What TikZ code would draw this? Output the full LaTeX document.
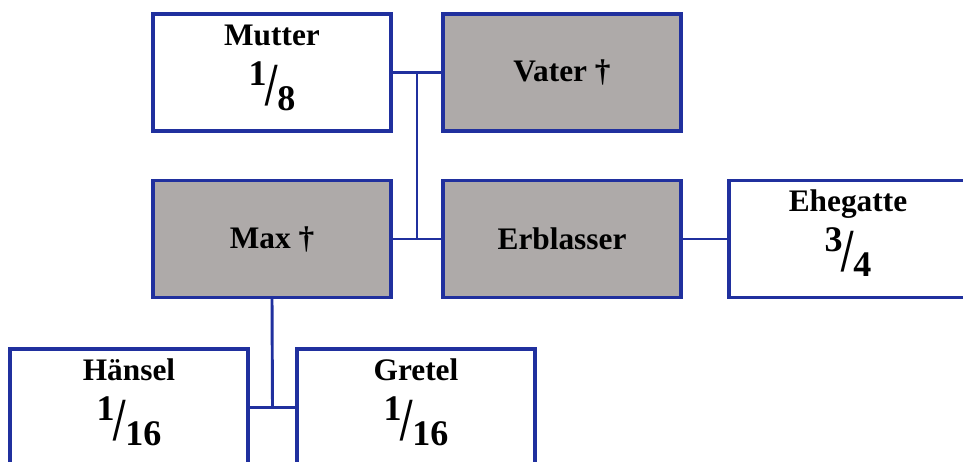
\documentclass[tikz,border=0pt]{standalone}
\usepackage{fontspec}
\setmainfont{Liberation Serif}
\usepackage{graphicx}
\usetikzlibrary{calc}
\definecolor{boxblue}{RGB}{32,48,158}
\definecolor{deadgray}{RGB}{174,170,169}
\newcommand{\anteil}[2]{\raisebox{.8em}{\scalebox{1.15}{#1}}\kern-.02em\raisebox{.16em}{\scalebox{1.4}[1.95]{/}}\kern-.02em\scalebox{1.15}{#2}}

\begin{document}
\begin{tikzpicture}[x=0.75pt, y=-0.75pt, font=\bfseries\fontsize{23.5}{28}\selectfont,
  box/.style={draw=boxblue, line width=2.4pt, fill=white, inner sep=0pt, minimum width=178.5pt, minimum height=87.75pt},
  heir/.style={box, text height=23.25pt, text depth=64.5pt},
  dead/.style={box, fill=deadgray},
  share/.style={anchor=base, inner sep=0pt},
  link/.style={draw=boxblue, line width=2.2pt}]
	\useasboundingbox (0,0) rectangle (963,461);
	\clip (0,0) rectangle (963,461);
	\node[heir] (mutter) at (272,72.5) {Mutter};
	\node[dead] (vater) at (562,72.5) {Vater †};
	\node[dead] (max) at (272,239) {Max †};
	\node[dead] (erblasser) at (562,239) {Erblasser};
	\node[heir] (ehegatte) at (848,239) {Ehegatte};
	\node[heir] (haensel) at (129,407.5) {Hänsel};
	\node[heir] (gretel) at (416,407.5) {Gretel};
	\node[share] (mutterq) at ([yshift=-73.5pt]mutter.north) {\anteil{1}{8}};
	\node[share] (ehegatteq) at ([yshift=-73.5pt]ehegatte.north) {\anteil{3}{4}};
	\node[share] (haenselq) at ([yshift=-73.5pt]haensel.north) {\anteil{1}{16}};
	\node[share] (gretelq) at ([yshift=-73.5pt]gretel.north) {\anteil{1}{16}};
	\draw[link] (mutter.east) -- (vater.west);
	\draw[link] (max.east) -- (erblasser.west);
	\draw[link] ($(mutter.east)!.5!(vater.west)$) -- ($(max.east)!.5!(erblasser.west)$);
	\draw[link] (erblasser.east) -- (ehegatte.west);
	\draw[link] (haensel.east) -- (gretel.west);
	\draw[link] (max.south) -- ($(haensel.east)!.5!(gretel.west)$);
\end{tikzpicture}
\end{document}
